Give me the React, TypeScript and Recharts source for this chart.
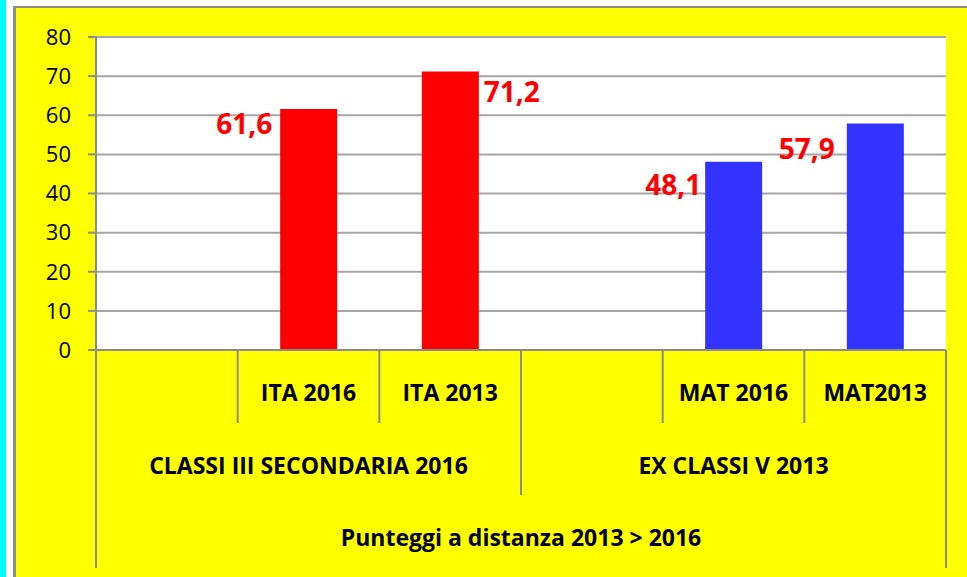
import { BarChart, Bar, XAxis, YAxis, CartesianGrid, Cell, LabelList } from 'recharts';

const categories = ['', 'ITA 2016', 'ITA 2013', '', 'MAT 2016', 'MAT2013'];
const groupOf = [0, 0, 0, 1, 1, 1];
const groups = ['CLASSI III SECONDARIA 2016', 'EX CLASSI V 2013'];
const topLabel = 'Punteggi a distanza 2013 > 2016';
const scores: (number | null)[] = [null, 61.6, 71.2, null, 48.1, 57.9];
const yTicks = [0, 10, 20, 30, 40, 50, 60, 70, 80];

const groupColors = ['#ff0000', '#3333ff'];
// the value labels were dragged around by hand in the original, so each one has its own spot
const labelPlace: ({ side: 'left' | 'right'; gap: number; dy: number } | null)[] = [
  null,
  { side: 'left', gap: 8, dy: 14 },
  { side: 'right', gap: 5, dy: 20 },
  null,
  { side: 'left', gap: 4, dy: 22 },
  { side: 'left', gap: 12, dy: 25 },
];

const FONT = '"Open Sans", sans-serif';
const LINE = '#8c8c8c';
const GRID = '#a6a6a6';

const rows = categories.map((label, i) => ({ id: i, label, score: scores[i] }));

function CategoryTick(props: any) {
  const { x, y, payload } = props;
  const band = payload?.offset ? payload.offset * 2 : props.width / props.visibleTicksCount;
  const i = Number(payload.value);
  const left = x - band / 2;
  const right = x + band / 2;
  const g = groupOf[i];
  const groupStart = groupOf.indexOf(g);
  const groupSize = groupOf.filter(v => v === g).length;
  const last = categories.length - 1;
  const lineLen = i === 0 ? 218 : i === groupStart ? 145 : 73;
  const textProps = {
    textAnchor: 'middle' as const,
    dominantBaseline: 'central' as const,
    fill: '#000',
    fontSize: 23,
    fontWeight: 700,
    fontFamily: FONT,
  };

  return (
    <g>
      <line x1={left} y1={y} x2={left} y2={y + lineLen} stroke={LINE} strokeWidth={2} />
      {i === last && <line x1={right} y1={y} x2={right} y2={y + 218} stroke={LINE} strokeWidth={2} />}
      {categories[i] && (
        <text x={x} y={y + 42} {...textProps}>{categories[i]}</text>
      )}
      {i === groupStart && (
        <text x={left + (band * groupSize) / 2} y={y + 115} {...textProps}>{groups[g]}</text>
      )}
      {i === 0 && (
        <text x={left + (band * categories.length) / 2} y={y + 187} {...textProps}>{topLabel}</text>
      )}
    </g>
  );
}

function ValueLabel(props: any) {
  const { x, y, width, value } = props;
  if (value == null) return null;
  const i = scores.indexOf(value);
  const place = labelPlace[i];
  if (!place) return null;
  const tx = place.side === 'left' ? x - place.gap : x + width + place.gap;
  return (
    <text
      x={tx}
      y={y + place.dy}
      textAnchor={place.side === 'left' ? 'end' : 'start'}
      dominantBaseline="central"
      fill="#ff0000"
      fontSize={28}
      fontWeight={700}
      fontFamily={FONT}
    >
      {Number(value).toFixed(1).replace('.', ',')}
    </text>
  );
}

export default function App() {
  return (
    <div style={{ position: 'absolute', left: 0, top: 0, width: 967, height: 577, background: '#fff', overflow: 'hidden' }}>
      <div style={{ position: 'absolute', left: 0, top: 0, width: 6, height: 577, background: '#00ffff' }} />
      <div
        style={{
          position: 'absolute', left: 13, top: 6, width: 954, height: 571,
          boxSizing: 'border-box', background: '#ffff00',
          borderLeft: `3px solid ${LINE}`, borderTop: `2px solid ${LINE}`,
        }}
      />
      <div style={{ position: 'absolute', left: 0, top: 0 }}>
        <BarChart
          width={967}
          height={577}
          data={rows}
          margin={{ top: 37, right: 21, bottom: 0, left: 0 }}
          barCategoryGap="30%"
        >
          <CartesianGrid horizontal vertical={false} fill="#fff" stroke={GRID} strokeWidth={2} />
          <XAxis
            dataKey="id"
            type="category"
            height={227}
            tickSize={0}
            tickMargin={0}
            tickLine={false}
            axisLine={{ stroke: LINE, strokeWidth: 2 }}
            tick={<CategoryTick />}
            interval={0}
          />
          <YAxis
            width={96}
            domain={[0, 80]}
            ticks={yTicks}
            interval={0}
            tickSize={8}
            tickMargin={17}
            tick={{ fontSize: 22, fill: '#000', fontFamily: FONT }}
            tickLine={{ stroke: LINE, strokeWidth: 2 }}
            axisLine={{ stroke: LINE, strokeWidth: 2 }}
          />
          <Bar dataKey="score" isAnimationActive={false}>
            {rows.map((r, i) => (
              <Cell key={r.id} fill={groupColors[groupOf[i]]} />
            ))}
            <LabelList dataKey="score" content={<ValueLabel />} />
          </Bar>
        </BarChart>
      </div>
    </div>
  );
}
